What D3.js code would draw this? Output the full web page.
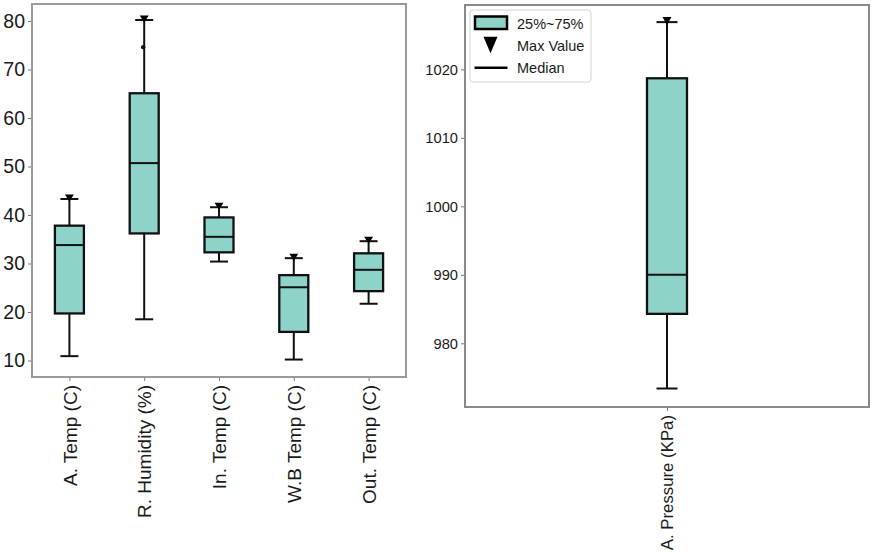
<!DOCTYPE html>
<html>
<head>
<meta charset="utf-8">
<script src="https://cdn.jsdelivr.net/npm/d3@7"></script>
<style>
  body { margin: 0; background: #fff; }
  svg { display: block; font-family: "Liberation Sans", Arial, sans-serif; }
</style>
</head>
<body>
<svg id="chart" width="872" height="552"></svg>
<script>
// left panel
const categories = ["A. Temp (C)", "R. Humidity (%)", "In. Temp (C)", "W.B Temp (C)", "Out. Temp (C)"];
const minValues = [10.9, 18.5, 30.4, 10.2, 21.7];
const q1Values = [19.7, 36.2, 32.3, 15.9, 24.3];
const medianValues = [33.8, 50.7, 35.5, 25.1, 28.7];
const q3Values = [37.8, 65.1, 39.5, 27.6, 32.1];
const maxValues = [43.3, 80.2, 41.6, 31.1, 34.6];
const outliers = [{ cat: "R. Humidity (%)", value: 74.6 }];
const leftTicks = [10, 20, 30, 40, 50, 60, 70, 80];

// right panel
const pressureCategory = ["A. Pressure (KPa)"];
const pressureMin = [973.4];
const pressureQ1 = [984.3];
const pressureMedian = [990.0];
const pressureQ3 = [1018.7];
const pressureMax = [1026.9];
const rightTicks = [980, 990, 1000, 1010, 1020];

const legendLabels = ["25%~75%", "Max Value", "Median"];

const fillColor = "#8dd3c7";
const svg = d3.select("#chart");

function makeRows(cats, mins, q1s, meds, q3s, maxs) {
    return cats.map((c, i) => ({ cat: c, min: mins[i], q1: q1s[i], med: meds[i], q3: q3s[i], max: maxs[i] }));
}

// downward triangle with given width / height, centred on 0,0
function triangle(w, h) {
    return `M${-w / 2},${-h / 2}L${w / 2},${-h / 2}L0,${h / 2}Z`;
}

function drawPanel(opts) {
    const { rows, x0, x1, y0, y1, domain, ticks, boxW, capW, tickSize, labelSize, strokeW, frameColor, triW, triH } = opts;

    const x = d3.scalePoint().domain(rows.map(d => d.cat)).range([x0, x1]).padding(0.5);
    const y = d3.scaleLinear().domain(domain).range([y1, y0]);

    const g = svg.append("g");

    // y axis
    const yAxis = g.append("g")
        .attr("transform", `translate(${x0},0)`)
        .call(d3.axisLeft(y).tickValues(ticks).tickSize(4).tickPadding(3).tickFormat(d3.format("d")));
    yAxis.select(".domain").remove();
    yAxis.selectAll("line").attr("stroke", "#777");
    yAxis.selectAll("text").attr("font-size", tickSize).attr("fill", "#1a1a1a").attr("font-family", "Liberation Sans, Arial");

    // x axis
    const xAxis = g.append("g")
        .attr("transform", `translate(0,${y1})`)
        .call(d3.axisBottom(x).tickSize(4).tickFormat(""));
    xAxis.select(".domain").remove();
    xAxis.selectAll("line").attr("stroke", "#777");

    xAxis.selectAll(".tick").append("text")
        .attr("transform", "rotate(-90)")
        .attr("x", -8)
        .attr("y", 0)
        .attr("dy", "0.35em")
        .attr("text-anchor", "end")
        .attr("font-size", labelSize)
        .attr("fill", "#1a1a1a")
        .attr("font-family", "Liberation Sans, Arial")
        .text(d => d);

    // frame
    g.append("rect")
        .attr("x", x0).attr("y", y0)
        .attr("width", x1 - x0).attr("height", y1 - y0)
        .attr("fill", "none")
        .attr("stroke", frameColor)
        .attr("stroke-width", 2);

    const box = g.selectAll(".box").data(rows).enter().append("g").attr("class", "box");

    box.append("line")
        .attr("x1", d => x(d.cat)).attr("x2", d => x(d.cat))
        .attr("y1", d => y(d.min)).attr("y2", d => y(d.q1))
        .attr("stroke", "#111").attr("stroke-width", strokeW);
    box.append("line")
        .attr("x1", d => x(d.cat)).attr("x2", d => x(d.cat))
        .attr("y1", d => y(d.q3)).attr("y2", d => y(d.max))
        .attr("stroke", "#111").attr("stroke-width", strokeW);

    // caps
    box.append("line")
        .attr("x1", d => x(d.cat) - capW / 2).attr("x2", d => x(d.cat) + capW / 2)
        .attr("y1", d => y(d.min)).attr("y2", d => y(d.min))
        .attr("stroke", "#111").attr("stroke-width", strokeW);
    box.append("line")
        .attr("x1", d => x(d.cat) - capW / 2).attr("x2", d => x(d.cat) + capW / 2)
        .attr("y1", d => y(d.max)).attr("y2", d => y(d.max))
        .attr("stroke", "#111").attr("stroke-width", strokeW);

    box.append("rect")
        .attr("x", d => x(d.cat) - boxW / 2)
        .attr("y", d => y(d.q3))
        .attr("width", boxW)
        .attr("height", d => y(d.q1) - y(d.q3))
        .attr("fill", fillColor)
        .attr("stroke", "#111")
        .attr("stroke-width", strokeW + 0.3);

    box.append("line")
        .attr("x1", d => x(d.cat) - boxW / 2).attr("x2", d => x(d.cat) + boxW / 2)
        .attr("y1", d => y(d.med)).attr("y2", d => y(d.med))
        .attr("stroke", "#111").attr("stroke-width", strokeW);

    // max markers
    box.append("path")
        .attr("d", triangle(triW, triH))
        .attr("transform", d => `translate(${x(d.cat)},${y(d.max) - 1})`)
        .attr("fill", "#000");

    return { x, y, g };
}

const left = drawPanel({
    rows: makeRows(categories, minValues, q1Values, medianValues, q3Values, maxValues),
    x0: 32, x1: 406, y0: 4, y1: 377,
    domain: [6.6, 83.5], ticks: leftTicks,
    boxW: 29, capW: 18, tickSize: 19.5, labelSize: 19, strokeW: 2,
    frameColor: "#9a9a9a", triW: 9, triH: 7
});

left.g.selectAll(".outlier").data(outliers).enter().append("circle")
    .attr("cx", d => left.x(d.cat) - 1)
    .attr("cy", d => left.y(d.value))
    .attr("r", 2.2)
    .attr("fill", "#111");

const right = drawPanel({
    rows: makeRows(pressureCategory, pressureMin, pressureQ1, pressureMedian, pressureQ3, pressureMax),
    x0: 465, x1: 869, y0: 5, y1: 407,
    domain: [970.7, 1029.4], ticks: rightTicks,
    boxW: 40, capW: 21, tickSize: 14.7, labelSize: 16.8, strokeW: 2,
    frameColor: "#8a8a8a", triW: 9, triH: 8
});

// legend
const legend = svg.append("g").attr("transform", "translate(470,10)");
legend.append("rect")
    .attr("width", 121).attr("height", 72)
    .attr("rx", 3)
    .attr("fill", "#fff")
    .attr("stroke", "#d4d4d4")
    .attr("stroke-width", 1);

legend.append("rect")
    .attr("x", 5).attr("y", 6.5)
    .attr("width", 32).attr("height", 12.5)
    .attr("fill", fillColor)
    .attr("stroke", "#000")
    .attr("stroke-width", 2.5);

legend.append("path")
    .attr("d", triangle(14, 16.5))
    .attr("transform", "translate(20.5,35)")
    .attr("fill", "#000");

legend.append("line")
    .attr("x1", 4.5).attr("x2", 37.5)
    .attr("y1", 57.7).attr("y2", 57.7)
    .attr("stroke", "#000").attr("stroke-width", 2.5);

legend.selectAll(".lbl").data(legendLabels).enter().append("text")
    .attr("x", 47)
    .attr("y", (d, i) => 18.5 + i * 22)
    .attr("font-size", 14.5)
    .attr("fill", "#1a1a1a")
    .text(d => d);
</script>
</body>
</html>
